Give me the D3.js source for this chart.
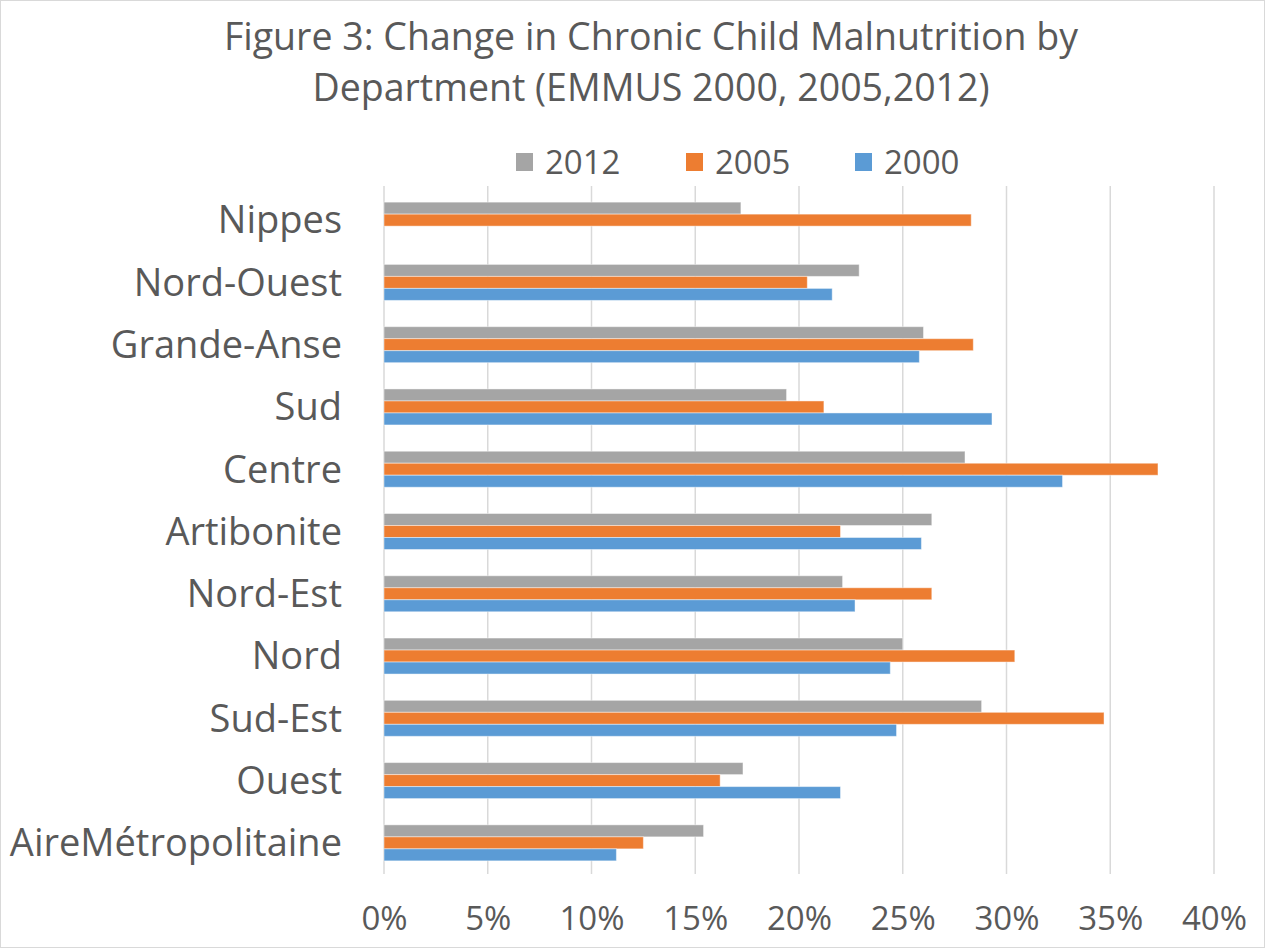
<!DOCTYPE html>
<html>
<head>
<meta charset="utf-8">
<script src="https://cdn.jsdelivr.net/npm/d3@7"></script>
<style>
  html, body { margin: 0; padding: 0; background: #ffffff; }
  svg { display: block; }
  text { font-family: "Open Sans", "Noto Sans", sans-serif; fill: #595959; }
</style>
</head>
<body>
<svg id="chart" width="1265" height="948"></svg>
<script>
// Departments, listed top to bottom
const departments = ["Nippes", "Nord-Ouest", "Grande-Anse", "Sud", "Centre", "Artibonite",
                     "Nord-Est", "Nord", "Sud-Est", "Ouest", "AireMétropolitaine"];
// Survey years, in the order their bars are stacked inside a group
const years = ["2012", "2005", "2000"];
// Chronic malnutrition rate (%) per department for each survey
const values2012 = [17.2, 22.9, 26.0, 19.4, 28.0, 26.4, 22.1, 25.0, 28.8, 17.3, 15.4];
const values2005 = [28.3, 20.4, 28.4, 21.2, 37.3, 22.0, 26.4, 30.4, 34.7, 16.2, 12.5];
const values2000 = [null, 21.6, 25.8, 29.3, 32.7, 25.9, 22.7, 24.4, 24.7, 22.0, 11.2];
const seriesColors = ["#A5A5A5", "#ED7D31", "#5B9BD5"];
const xTicks = [0, 5, 10, 15, 20, 25, 30, 35, 40];
const titleLines = ["Figure 3: Change in Chronic Child Malnutrition by",
                    "Department (EMMUS 2000, 2005,2012)"];

const seriesValues = { "2012": values2012, "2005": values2005, "2000": values2000 };
const rows = departments.map((d, i) => ({
  dept: d,
  bars: years.map(y => ({ year: y, value: seriesValues[y][i] }))
}));

const W = 1265, H = 948;
const plot = { left: 384, right: 1214, top: 189, bottom: 874 };

const svg = d3.select("#chart");

// Chart frame
svg.append("rect")
  .attr("x", 0.5).attr("y", 0.5)
  .attr("width", W - 1).attr("height", H - 1)
  .attr("fill", "#ffffff").attr("stroke", "#d9d9d9").attr("stroke-width", 1);

const x = d3.scaleLinear().domain([0, 40]).range([plot.left, plot.right]);
const y0 = d3.scaleBand().domain(departments).range([plot.top, plot.bottom])
  .paddingInner(2.19 / 5.19).paddingOuter(2.19 / 5.19 / 2);
const y1 = d3.scaleBand().domain(years).range([0, y0.bandwidth()]);

// Vertical gridlines
svg.append("g")
  .selectAll("line")
  .data(xTicks)
  .join("line")
  .attr("x1", d => x(d)).attr("x2", d => x(d))
  .attr("y1", plot.top - 3).attr("y2", plot.bottom)
  .attr("stroke", "#d9d9d9").attr("stroke-width", 1.5);

// Bars
const groups = svg.append("g")
  .selectAll("g")
  .data(rows)
  .join("g")
  .attr("transform", d => `translate(0,${y0(d.dept)})`);

groups.selectAll("rect")
  .data(d => d.bars.filter(b => b.value != null))
  .join("rect")
  .attr("x", x(0))
  .attr("y", d => y1(d.year))
  .attr("width", d => x(d.value) - x(0))
  .attr("height", y1.bandwidth())
  .attr("fill", d => seriesColors[years.indexOf(d.year)])
  .attr("stroke", "#ffffff").attr("stroke-opacity", 0.45).attr("stroke-width", 1);

// Category labels
svg.append("g")
  .selectAll("text")
  .data(departments)
  .join("text")
  .attr("x", plot.left - 42)
  .attr("y", d => y0(d) + y0.bandwidth() / 2)
  .attr("dy", "0.35em")
  .attr("text-anchor", "end")
  .style("font-size", "38px")
  .text(d => d);

// Value axis labels
const xAxis = d3.axisBottom(x).tickValues(xTicks).tickFormat(d => d + "%").tickSize(0).tickPadding(0);
const axisG = svg.append("g").attr("transform", `translate(0,${plot.bottom})`).call(xAxis);
axisG.select(".domain").remove();
axisG.selectAll("text")
  .attr("y", 44).attr("dy", "0.35em")
  .style("font-size", "33px")
  .style("font-family", null)
  .attr("fill", "#595959");

// Title
svg.append("g")
  .selectAll("text")
  .data(titleLines)
  .join("text")
  .attr("x", 651)
  .attr("y", (d, i) => 37 + i * 51)
  .attr("dy", "0.35em")
  .attr("text-anchor", "middle")
  .style("font-size", "37.5px")
  .text(d => d);

// Legend
const legendX = [516, 686, 855];
const legend = svg.append("g")
  .selectAll("g")
  .data(years)
  .join("g")
  .attr("transform", (d, i) => `translate(${legendX[i]},162)`);
legend.append("rect")
  .attr("x", 0).attr("y", -9)
  .attr("width", 17).attr("height", 18)
  .attr("fill", (d, i) => seriesColors[i]);
legend.append("text")
  .attr("x", 29).attr("y", 0).attr("dy", "0.35em")
  .style("font-size", "33px")
  .text(d => d);
</script>
</body>
</html>
